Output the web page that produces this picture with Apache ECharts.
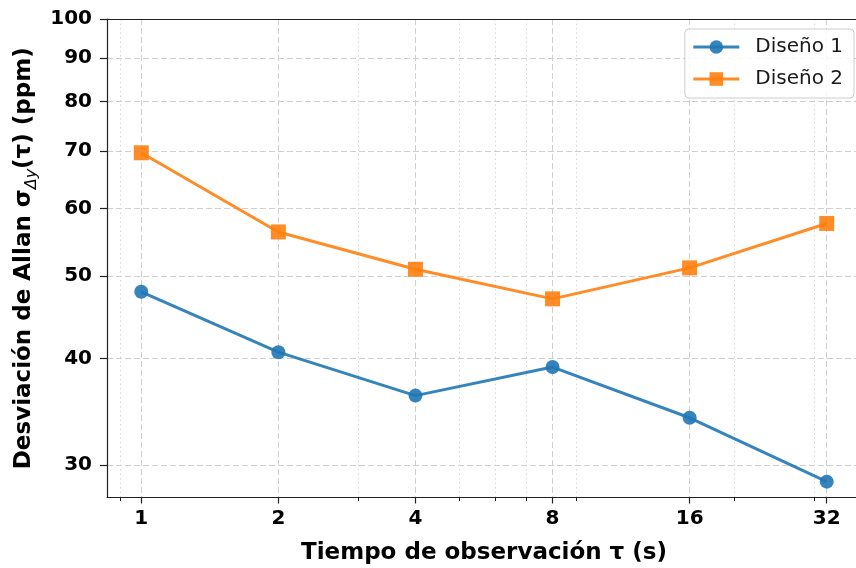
<!DOCTYPE html>
<html>
<head>
<meta charset="utf-8">
<script src="https://cdn.jsdelivr.net/npm/echarts@6/dist/echarts.min.js"></script>
<style>
  html, body { margin: 0; padding: 0; background: #fff; }
  #chart { width: 856px; height: 568px; }
</style>
</head>
<body>
<div id="chart"></div>
<script>
// Observation times (s) and Allan deviation (ppm) for the two designs
const tau = [1, 2, 4, 8, 16, 32];
const design1 = [47.9, 40.7, 36.2, 39.1, 34.1, 28.7];
const design2 = [69.7, 56.3, 50.9, 47.0, 51.1, 57.6];
const seriesNames = ['Diseño 1', 'Diseño 2'];

// Axis tick positions
const xMajorTicks = [1, 2, 4, 8, 16, 32];
const xMinorTicks = [0.9, 3, 5, 6, 7, 9, 20, 30];
const yTicks = [30, 40, 50, 60, 70, 80, 90, 100];

const FONT = 'DejaVu Sans';
// a quarter octave of padding on each side of the tau range
const xMin = Math.pow(2, -0.25), xMax = Math.pow(2, 5.25);
const yMin = 27.5, yMax = 100;

const chart = echarts.init(document.getElementById('chart'), null, { renderer: 'canvas' });

const gridDash = { color: '#d0d0d0', width: 1, type: [6, 3] };

chart.setOption({
  animation: false,
  backgroundColor: '#fff',
  grid: { left: 107, top: 19, width: 754, height: 478.5, containLabel: false, outerBoundsMode: 'none' },
  legend: {
    data: seriesNames,
    right: 2, top: 29,
    orient: 'vertical',
    itemWidth: 46, itemHeight: 17, itemGap: 12,
    padding: [8, 11, 9, 7],
    backgroundColor: 'rgba(255,255,255,0.85)',
    borderColor: '#cccccc', borderWidth: 1, borderRadius: 4,
    lineStyle: { width: 3 },
    textStyle: { fontFamily: FONT, fontSize: 20, color: '#1a1a1a', padding: [0, 0, 0, 11] }
  },
  xAxis: [
    {
      type: 'log', logBase: 2, min: xMin, max: xMax,
      axisLine: { show: true, onZero: false, lineStyle: { color: '#222', width: 1.2 } },
      axisTick: { show: true, customValues: xMajorTicks, length: 6, lineStyle: { color: '#222', width: 1.2 } },
      axisLabel: { customValues: xMajorTicks, margin: 11, fontFamily: FONT, fontWeight: 'bold', fontSize: 20, color: '#000' },
      splitLine: { show: true, lineStyle: gridDash },
      name: 'Tiempo de observación τ (s)',
      nameLocation: 'middle', nameGap: 44,
      nameTextStyle: { fontFamily: FONT, fontWeight: 'bold', fontSize: 23, color: '#000' }
    },
    {
      // minor ticks with dotted grid lines
      type: 'log', logBase: 2, min: xMin, max: xMax, position: 'bottom',
      axisLine: { show: false },
      axisTick: { show: true, customValues: xMinorTicks, length: 3.5, lineStyle: { color: '#222', width: 1 } },
      axisLabel: { show: false, customValues: xMinorTicks },
      splitLine: { show: true, lineStyle: { color: '#d8d8d8', width: 1, type: [1.5, 3] } }
    },
    {
      // top spine
      type: 'log', logBase: 2, min: xMin, max: xMax, position: 'top',
      axisLine: { show: true, lineStyle: { color: '#222', width: 1.2 } },
      axisTick: { show: false }, axisLabel: { show: false }, splitLine: { show: false }
    }
  ],
  yAxis: {
    type: 'log', logBase: 10, min: yMin, max: yMax,
    axisLine: { show: true, onZero: false, lineStyle: { color: '#222', width: 1.2 } },
    axisTick: { show: true, customValues: yTicks, length: 7, lineStyle: { color: '#222', width: 1.2 } },
    axisLabel: { customValues: yTicks, margin: 15, fontFamily: FONT, fontWeight: 'bold', fontSize: 20, color: '#000' },
    splitLine: { show: true, lineStyle: gridDash },
    name: '{t|Desviación de Allan σ}{s|Δy}{t|(τ) (ppm)}',
    nameLocation: 'middle', nameGap: 67, nameRotate: 90,
    nameTextStyle: {
      fontFamily: FONT, fontWeight: 'bold', fontSize: 23, color: '#000',
      rich: {
        t: { fontFamily: FONT, fontWeight: 'bold', fontSize: 23, color: '#000', lineHeight: 30, verticalAlign: 'middle' },
        s: { fontFamily: FONT, fontStyle: 'italic', fontWeight: 'normal', fontSize: 16, color: '#000', lineHeight: 30, verticalAlign: 'bottom', padding: [9, 0, 0, 0] }
      }
    }
  },
  series: [
    {
      name: seriesNames[0], type: 'line', xAxisIndex: 0,
      data: tau.map((t, i) => [t, design1[i]]),
      symbol: 'circle', symbolSize: 14,
      lineStyle: { color: '#1f77b4', width: 3, opacity: 0.9 },
      itemStyle: { color: '#1f77b4', opacity: 0.9 },
      z: 3
    },
    {
      name: seriesNames[1], type: 'line', xAxisIndex: 0,
      data: tau.map((t, i) => [t, design2[i]]),
      symbol: 'rect', symbolSize: 15,
      lineStyle: { color: '#ff7f0e', width: 3, opacity: 0.9 },
      itemStyle: { color: '#ff7f0e', opacity: 0.9 },
      z: 3
    }
  ]
});
</script>
</body>
</html>
